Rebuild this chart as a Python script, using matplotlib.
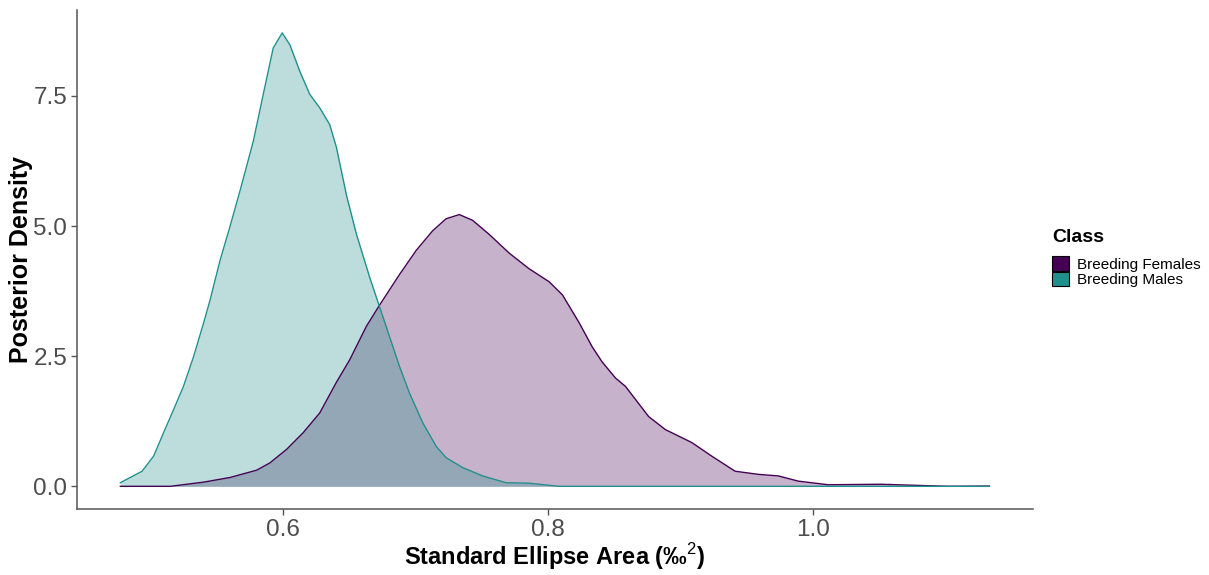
import numpy as np
import matplotlib
matplotlib.use('Agg')
import matplotlib.pyplot as plt
from matplotlib.patches import Patch

plt.rcParams['font.family'] = ['Liberation Sans', 'DejaVu Sans']
plt.rcParams['mathtext.fontset'] = 'custom'
plt.rcParams['mathtext.rm'] = 'Liberation Sans'
plt.rcParams['mathtext.bf'] = 'Liberation Sans:bold'

# density curves (x = SEA, y = posterior density)
males_x = [0.4774, 0.4938, 0.5025, 0.5100, 0.5175, 0.5250, 0.5326, 0.5401, 0.5451,
           0.5526, 0.5602, 0.5677, 0.5777, 0.5852, 0.5927, 0.5995, 0.6053, 0.6128,
           0.6203, 0.6278, 0.6353, 0.6404, 0.6479, 0.6554, 0.6654, 0.6729, 0.6805,
           0.6880, 0.6955, 0.7055, 0.7156, 0.7231, 0.7356, 0.7506, 0.7682, 0.7857,
           0.8083, 1.1329]
males_y = [0.07, 0.29, 0.58, 1.03, 1.47, 1.92, 2.49, 3.13, 3.58,
           4.34, 5.00, 5.68, 6.63, 7.53, 8.42, 8.71, 8.48, 7.97,
           7.53, 7.27, 6.95, 6.51, 5.60, 4.85, 4.02, 3.45, 2.87,
           2.30, 1.79, 1.22, 0.77, 0.55, 0.36, 0.20, 0.07, 0.06,
           0.0, 0.0]

females_x = [0.4774, 0.5150, 0.5401, 0.5602, 0.5802, 0.5902, 0.6028, 0.6153, 0.6278,
             0.6404, 0.6504, 0.6629, 0.6729, 0.6880, 0.7005, 0.7130, 0.7231, 0.7331,
             0.7431, 0.7556, 0.7707, 0.7857, 0.8008, 0.8108, 0.8233, 0.8333, 0.8408,
             0.8509, 0.8584, 0.8759, 0.8885, 0.9085, 0.9235, 0.9411, 0.9586, 0.9737,
             0.9887, 1.0113, 1.0511, 1.0765, 1.1015, 1.1329]
females_y = [0.0, 0.0, 0.08, 0.17, 0.31, 0.45, 0.71, 1.03, 1.41,
             2.00, 2.43, 3.07, 3.48, 4.07, 4.53, 4.91, 5.14, 5.22,
             5.11, 4.84, 4.48, 4.18, 3.93, 3.68, 3.15, 2.68, 2.39,
             2.08, 1.92, 1.34, 1.09, 0.84, 0.58, 0.29, 0.23, 0.20,
             0.10, 0.03, 0.04, 0.02, 0.0, 0.005]

classes = ['Breeding Females', 'Breeding Males']
colors = ['#440154', '#21908C']

fig = plt.figure(figsize=(12.09, 5.75), dpi=100)
ax = fig.add_axes([77/1209, 66/575, 956/1209, 499/575])

for xs, ys, c in [(females_x, females_y, colors[0]), (males_x, males_y, colors[1])]:
    ax.fill_between(xs, 0, ys, color=c, alpha=0.3, linewidth=0)
    ax.plot(xs, ys, color=c, linewidth=1.0)

ax.set_xlim(0.4447, 1.1658)
ax.set_ylim(-0.4355, 9.15)
ax.set_xticks([0.6, 0.8, 1.0])
ax.set_xticklabels(['0.6', '0.8', '1.0'])
ax.set_yticks([0, 2.5, 5.0, 7.5])
ax.set_yticklabels(['0.0', '2.5', '5.0', '7.5'])

for s in ['top', 'right']:
    ax.spines[s].set_visible(False)
for s in ['left', 'bottom']:
    ax.spines[s].set_color('#555555')
    ax.spines[s].set_linewidth(1.1)
ax.tick_params(axis='both', colors='#555555', labelcolor='#4D4D4D',
               labelsize=17.5, length=4, width=1.0, pad=3)

ax.set_xlabel(r'Standard Ellipse Area ($\mathbf{‰}^{2}$)', fontsize=17,
              fontweight='bold', labelpad=0)
ax.set_ylabel('Posterior Density', fontsize=18, fontweight='bold')
ax.yaxis.set_label_coords(-0.046, 0.5)

fig.text(1052/1209, 1 - 238/575, 'Class', fontsize=14, fontweight='bold',
         va='center', ha='left')
handles = [Patch(facecolor=c, edgecolor='black', linewidth=0.8) for c in colors]
leg = fig.legend(handles, classes, loc='upper left',
                 bbox_to_anchor=(1052/1209, 1 - 256/575), frameon=False,
                 fontsize=11, handlelength=1.1, handleheight=1.1,
                 handletextpad=0.55, labelspacing=0.0, borderpad=0,
                 borderaxespad=0)

fig.savefig('out.png', dpi=100)
